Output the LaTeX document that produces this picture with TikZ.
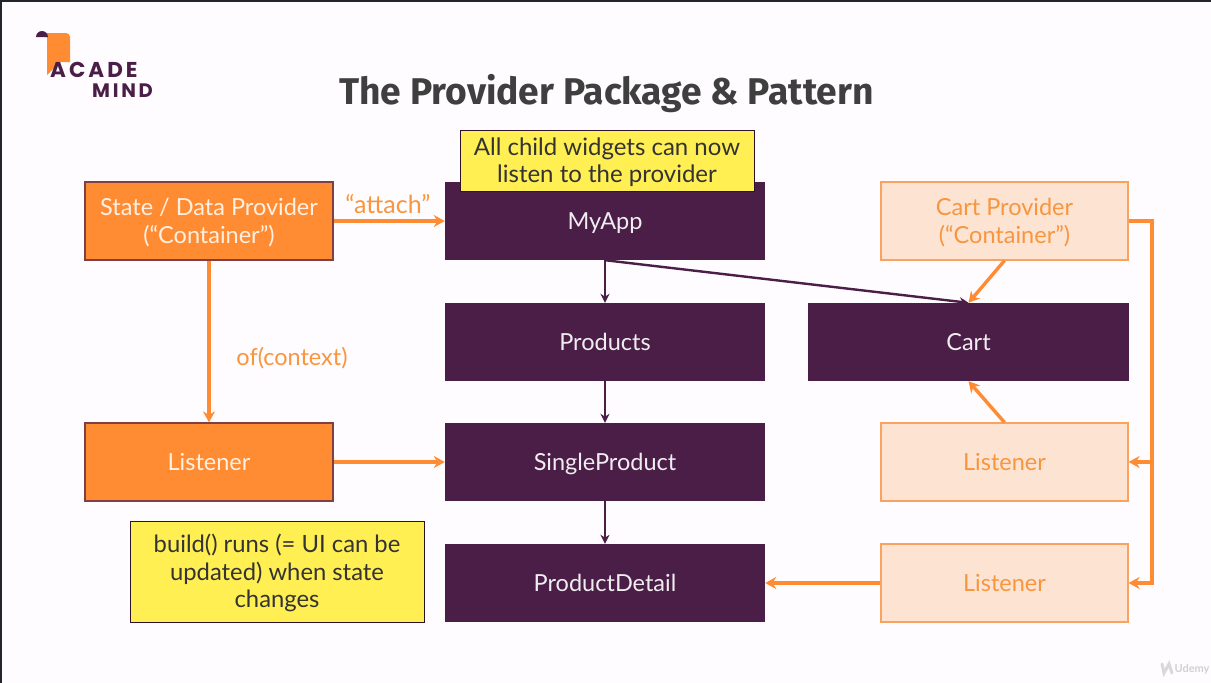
\documentclass[tikz,border=0pt]{standalone}
\usepackage{fontspec}
\setmainfont{Lato}
\newfontfamily\titlefont{Fira Sans}
\newfontfamily\logofont[LetterSpace=14]{Poppins}
\usetikzlibrary{arrows.meta}

\definecolor{pagebg}{HTML}{FEFCFE}
\definecolor{framedark}{HTML}{22252C}
\definecolor{plum}{HTML}{4A1E47}
\definecolor{carrot}{HTML}{FF8C33}
\definecolor{peach}{HTML}{FDE3D2}
\definecolor{peachline}{HTML}{F9A35F}
\definecolor{peachtext}{HTML}{F8963F}
\definecolor{carrottext}{HTML}{FFF0E2}
\definecolor{notefill}{HTML}{FFEF52}
\definecolor{titlegrey}{HTML}{3F3F3F}

\newcommand{\toppad}{\rule{0pt}{23pt}}
\newcommand{\botpad}{\rule[-6pt]{0pt}{6pt}}

\tikzset{
    box/.style={minimum height=78pt, align=center, inner sep=0pt, font=\fontsize{23.5}{28}\selectfont},
    widgetbox/.style={box, fill=plum, text=white!92!plum, minimum width=320pt},
    statebox/.style={box, fill=carrot, draw=plum!70!carrot, line width=1.2pt, text=carrottext, minimum width=248pt},
    cartbox/.style={box, fill=peach, draw=peachline, line width=1.2pt, text=peachtext, minimum width=247pt},
    notebox/.style={box, fill=notefill, draw=plum!60!black, line width=1pt, text=black!80, minimum width=294pt},
    widgetarrow/.style={draw=plum, line width=2.4pt, -{Stealth[length=9pt, width=9pt]}},
    statearrow/.style={draw=carrot, line width=3.4pt, -{Stealth[length=11pt, width=12pt]}},
    edgetext/.style={text=peachtext, font=\fontsize{23.5}{28}\selectfont}
}

\begin{document}
\begin{tikzpicture}[x=1pt, y=-1pt]
    \useasboundingbox (0,0) rectangle (1211,683);
    \fill[framedark] (0,0) rectangle (1211,683);
    \fill[pagebg] (2,2) rectangle (1211,683);

    % logo
    \fill[carrot] (46,33) -- (66,33) to[out=0, in=90] (70,37) -- (70,62) -- (60,62) -- (47,75) -- (47,38) to[out=90, in=0] (44,34) -- cycle;
    \fill[plum] (36,37) arc[start angle=180, end angle=0, radius=6pt] -- cycle;
    \node[anchor=west, inner sep=0pt, text=plum] (logoacade) at (50,70) {\logofont\fontsize{21.5}{21.5}\selectfont\bfseries ACADE};
    \node[anchor=west, inner sep=0pt, text=plum] (logomind) at (92,91) {\logofont\fontsize{19.5}{19.5}\selectfont\bfseries MIND};

    \node[text=titlegrey, inner sep=0pt] (title) at (606.5,94) {\titlefont\fontsize{37.2}{44}\selectfont\bfseries The Provider Package \& Pattern};

    % widgets
    \node[widgetbox] (myapp) at (605,221) {\toppad MyApp\botpad};
    \node[widgetbox] (products) at (605,342) {\toppad Products\botpad};
    \node[widgetbox] (singleproduct) at (605,462) {\toppad SingleProduct\botpad};
    \node[widgetbox] (productdetail) at (605,583) {\toppad ProductDetail\botpad};
    \node[widgetbox, minimum width=321pt] (cart) at (968.5,342) {\toppad Cart\botpad};

    % providers and listeners
    \node[statebox] (stateprovider) at (209,221) {\toppad State / Data Provider\\(“Container”)\botpad};
    \node[statebox] (stateListener) at (209,462) {\toppad Listener\botpad};
    \node[cartbox] (cartprovider) at (1004.5,221) {\toppad Cart Provider\\(“Container”)\botpad};
    \node[cartbox] (cartlistener) at (1004.5,462) {\toppad Listener\botpad};
    \node[cartbox] (detaillistener) at (1004.5,583) {\toppad Listener\botpad};

    % notes
    \node[notebox, minimum height=61pt, font=\fontsize{24}{27.5}\selectfont] (childnote) at (607,160.5) {\toppad All child widgets can now\\listen to the provider\botpad};
    \node[notebox, minimum height=101pt, font=\fontsize{23.8}{27.2}\selectfont] (buildnote) at (277,571.5) {\toppad build() runs (= UI can be\\updated) when state\\changes\botpad};

    \draw[widgetarrow] (myapp) -- (products);
    \draw[widgetarrow] (products) -- (singleproduct);
    \draw[widgetarrow] (singleproduct) -- (productdetail);
    \draw[widgetarrow] (myapp.south) -- (cart.north);

    \draw[statearrow] (stateprovider) -- (myapp);
    \draw[statearrow] (stateprovider) -- (stateListener);
    \draw[statearrow] (stateListener) -- (singleproduct);
    \draw[statearrow] (detaillistener) -- (productdetail);
    \draw[statearrow] (cartprovider.south) -- (cart.north);
    \draw[statearrow] (cartlistener.north) -- (cart.south);

    \coordinate (cartbus) at (1152,462);
    \draw[statearrow] (cartprovider.east) -| (cartbus) |- (detaillistener.east);
    \draw[statearrow] (cartbus) -- (cartlistener.east);

    \node[edgetext, font=\fontsize{25}{28}\selectfont] (attachlabel) at (388,204) {“attach”};
    \node[edgetext] (oflabel) at (292,358) {of(context)};

    % watermark
    \draw[white!70!gray, line width=3pt, line cap=round] (1162,664) -- (1164,673) -- (1169,664) -- (1172,673);
    \node[text=black!18, inner sep=0pt, font=\fontsize{11}{11}\selectfont\bfseries] (udemy) at (1192,669) {Udemy};
\end{tikzpicture}
\end{document}
